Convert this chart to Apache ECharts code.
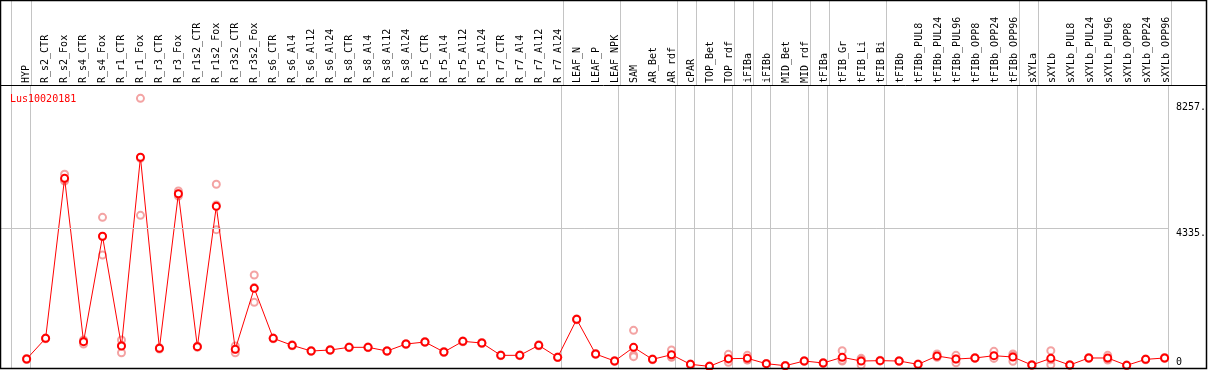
<!DOCTYPE html>
<html>
<head>
<meta charset="utf-8">
<script src="https://cdn.jsdelivr.net/npm/echarts@6/dist/echarts.min.js"></script>
<style>
  html, body { margin: 0; padding: 0; background: #fff; }
  #chart { width: 1209px; height: 370px; }
</style>
</head>
<body>
<div id="chart"></div>
<script>
var samples = ['HYP', 'R_s2_CTR', 'R_s2_Fox', 'R_s4_CTR', 'R_s4_Fox', 'R_r1_CTR', 'R_r1_Fox', 'R_r3_CTR', 'R_r3_Fox',
    'R_r1s2_CTR', 'R_r1s2_Fox', 'R_r3s2_CTR', 'R_r3s2_Fox', 'R_s6_CTR', 'R_s6_Al4', 'R_s6_Al12', 'R_s6_Al24',
    'R_s8_CTR', 'R_s8_Al4', 'R_s8_Al12', 'R_s8_Al24', 'R_r5_CTR', 'R_r5_Al4', 'R_r5_Al12', 'R_r5_Al24',
    'R_r7_CTR', 'R_r7_Al4', 'R_r7_Al12', 'R_r7_Al24', 'LEAF_N', 'LEAF_P', 'LEAF_NPK', 'SAM', 'AR_Bet', 'AR_rdf',
    'cPAR', 'TOP_Bet', 'TOP_rdf', 'iFIBa', 'iFIBb', 'MID_Bet', 'MID_rdf', 'tFIBa', 'tFIB_Gr', 'tFIB_Li', 'tFIB_Bi',
    'tFIBb', 'tFIBb_PUL8', 'tFIBb_PUL24', 'tFIBb_PUL96', 'tFIBb_OPP8', 'tFIBb_OPP24', 'tFIBb_OPP96',
    'sXYLa', 'sXYLb', 'sXYLb_PUL8', 'sXYLb_PUL24', 'sXYLb_PUL96', 'sXYLb_OPP8', 'sXYLb_OPP24', 'sXYLb_OPP96'];

// mean expression per sample
var meanValues = [246, 892, 5884, 787, 4075, 652, 6540, 580, 5404, 631, 5010, 549, 2452, 892, 673, 496, 527,
    611, 611, 496, 714, 777, 465, 798, 745, 361, 361, 673, 299, 1484, 402, 184, 611, 236, 381,
    80, 18, 257, 267, 101, 38, 184, 122, 299, 184, 195, 184, 80, 340, 246, 278, 350, 309,
    59, 267, 59, 278, 278, 49, 236, 278];

// replicates
var rep1 = [262, 900, 6009, 839, 4667, 839, 8380, 600, 5488, 650, 5697, 652, 2867, 905, 690, 510, 540,
    625, 620, 505, 725, 790, 480, 810, 760, 375, 372, 690, 310, 1495, 415, 195, 1141, 250, 527,
    92, 25, 392, 362, 110, 45, 195, 135, 506, 267, 205, 195, 92, 402, 362, 290, 486, 402,
    66, 506, 66, 290, 362, 58, 248, 290];
var rep2 = [232, 880, 5800, 714, 3491, 443, 4729, 560, 5330, 610, 4281, 443, 2015, 880, 660, 485, 515,
    600, 600, 485, 700, 765, 450, 785, 730, 350, 350, 660, 290, 1470, 390, 175, 372, 225, 299,
    70, 12, 143, 215, 92, 30, 175, 110, 184, 59, 185, 175, 70, 299, 131, 265, 299, 174,
    52, 70, 52, 265, 215, 40, 225, 265];
var rep3 = [244, 896, 5843, 808, 4067, 674, 6511, 580, 5394, 633, 5052, 552, 2474, 891, 669, 493, 526,
    608, 613, 498, 717, 776, 465, 799, 745, 358, 361, 669, 297, 1487, 401, 182, 320, 233, 317,
    78, 17, 236, 224, 101, 39, 182, 121, 207, 226, 195, 182, 78, 319, 245, 279, 265, 351,
    59, 225, 59, 279, 257, 49, 235, 279];

// index of the last sample in each group (separator drawn after it)
var groupEnds = [-1, 0, 28, 31, 34, 35, 37, 38, 39, 41, 42, 45, 52, 53, 60];

var yTicks = [0, 4335, 8257];
var geneName = 'Lus10020181';

var myChart = echarts.init(document.getElementById('chart'));
var mono = 'DejaVu Sans Mono';

function toPairs(arr) {
    return arr.map(function (v, i) { return [i, v]; });
}

function sepItem(params, api) {
    var cs = params.coordSys;
    var x = Math.round(api.coord([api.value(0) + 0.2, 0])[0]) + 0.5;
    return {
        type: 'line',
        shape: { x1: x, y1: cs.y, x2: x, y2: cs.y + cs.height },
        style: { stroke: '#c4c4c4', lineWidth: 1 }
    };
}

var repStyle = {
    type: 'scatter',
    xAxisIndex: 2,
    yAxisIndex: 1,
    symbol: 'emptyCircle',
    symbolSize: 7,
    itemStyle: { color: '#f08c8c', borderColor: '#f08c8c', borderWidth: 1.1 },
    z: 2
};

var option = {
    animation: false,
    backgroundColor: '#fff',
    title: {
        text: geneName,
        left: 5,
        top: 89,
        textStyle: { color: '#ff0000', fontSize: 10, fontWeight: 'normal', fontFamily: mono }
    },
    grid: [
        { left: 17.2, right: 32.8, top: 0, height: 85 },
        { left: 1, right: 38, top: 86, bottom: 2 }
    ],
    xAxis: [
        {
            type: 'category', gridIndex: 0, data: samples, position: 'bottom',
            axisLine: { show: false }, axisTick: { show: false },
            axisLabel: { inside: true, rotate: 90, margin: 2, interval: 0, color: '#000', fontSize: 10, fontFamily: mono }
        },
        { type: 'value', gridIndex: 0, min: -0.5, max: 60.5, show: false },
        { type: 'value', gridIndex: 1, min: -1.3526, max: 60.226, show: false }
    ],
    yAxis: [
        { type: 'value', gridIndex: 0, min: 0, max: 1, show: false },
        {
            type: 'value', gridIndex: 1, position: 'right', min: -34, max: 8764,
            axisLine: { show: false }, axisTick: { show: false }, splitLine: { show: false },
            axisLabel: {
                customValues: yTicks,
                margin: 7,
                formatter: function (v) {
                    return v === 0 ? '{up|0}' : '{dn|' + v + '.}';
                },
                rich: {
                    up: { padding: [0, 0, 10, 0], fontSize: 10, fontFamily: mono, color: '#000' },
                    dn: { padding: [10, 0, 0, 0], fontSize: 10, fontFamily: mono, color: '#000' }
                }
            }
        }
    ],
    graphic: [
        { type: 'rect', shape: { x: 0.5, y: 0.5, width: 1206, height: 368 }, style: { fill: 'none', stroke: '#000', lineWidth: 1.5 }, z: 100 },
        { type: 'line', shape: { x1: 0, y1: 85.5, x2: 1207, y2: 85.5 }, style: { stroke: '#000', lineWidth: 1 }, z: 100 }
    ],
    series: [
        {
            type: 'custom', xAxisIndex: 1, yAxisIndex: 0, renderItem: sepItem,
            data: groupEnds.map(function (g) { return [g, 0]; }), silent: true, z: 1
        },
        {
            type: 'custom', xAxisIndex: 2, yAxisIndex: 1, renderItem: sepItem,
            data: groupEnds.map(function (g) { return [g, 0]; }), silent: true, z: 1
        },
        Object.assign({ name: 'rep1', data: toPairs(rep1) }, repStyle),
        Object.assign({ name: 'rep2', data: toPairs(rep2) }, repStyle),
        Object.assign({ name: 'rep3', data: toPairs(rep3) }, repStyle),
        {
            name: 'mean',
            type: 'line',
            xAxisIndex: 2,
            yAxisIndex: 1,
            data: toPairs(meanValues),
            symbol: 'emptyCircle',
            symbolSize: 7,
            lineStyle: { color: '#ff0000', width: 1 },
            itemStyle: { color: '#ff0000', borderColor: '#ff0000', borderWidth: 1.3 },
            z: 3,
            markLine: {
                silent: true,
                symbol: 'none',
                label: { show: false },
                lineStyle: { color: '#c4c4c4', type: 'solid', width: 1 },
                data: [{ yAxis: 4335 }]
            }
        }
    ]
};

myChart.setOption(option);
window.addEventListener('resize', function () {
    myChart.resize();
});
</script>
</body>
</html>
